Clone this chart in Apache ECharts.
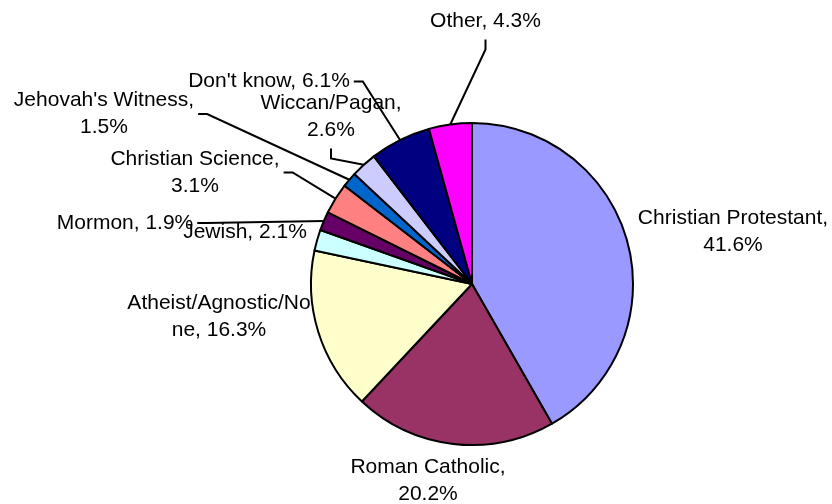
<!DOCTYPE html>
<html>
<head>
<meta charset="utf-8">
<script src="https://cdn.jsdelivr.net/npm/echarts@6/dist/echarts.min.js"></script>
<style>
  html, body { margin: 0; padding: 0; background: #ffffff; }
  #chart { width: 832px; height: 504px; }
</style>
</head>
<body>
<div id="chart"></div>
<script>
// Religious affiliation shares (percent), listed clockwise from twelve o'clock
const categories = [
  'Christian Protestant', 'Roman Catholic', 'Atheist/Agnostic/None', 'Jewish', 'Mormon',
  'Christian Science', "Jehovah's Witness", 'Wiccan/Pagan', "Don't know", 'Other'
];
const shares = [41.6, 20.2, 16.3, 2.1, 1.9, 3.1, 1.5, 2.6, 6.1, 4.3];
const sliceColors = [
  '#9999FF', '#993366', '#FFFFCC', '#CCFFFF', '#660066',
  '#FF8080', '#0066CC', '#CCCCFF', '#000080', '#FF00FF'
];

// Label placement: centre point, whether the value goes on its own line,
// and which side of the label the leader line leaves from.
const labelPlacement = {
  'Christian Protestant':  { pos: [733, 232], wrap: true },
  'Roman Catholic':        { pos: [428, 481], wrap: true },
  'Atheist/Agnostic/None': { pos: [219, 316.5], wrap: false, boxWidth: 190 },
  'Jewish':                { pos: [245, 232], wrap: false },
  'Mormon':                { pos: [125, 223], wrap: false, leader: 'right' },
  'Christian Science':     { pos: [195, 172.5], wrap: true, leader: 'right' },
  "Jehovah's Witness":     { pos: [104, 114], wrap: true, leader: 'right' },
  'Wiccan/Pagan':          { pos: [331, 116.5], wrap: true, leader: 'bottom' },
  "Don't know":            { pos: [269, 81.5], wrap: false, leader: 'right' },
  'Other':                 { pos: [485.5, 21], wrap: false, leader: 'bottom' }
};

const FONT_FAMILY = '"Liberation Sans", Arial, Helvetica, sans-serif';
const FONT_SIZE = 21;

const measureCtx = document.createElement('canvas').getContext('2d');
measureCtx.font = FONT_SIZE + 'px ' + FONT_FAMILY;
function textWidth(str) {
  return Math.max.apply(null, String(str).split('\n').map(function (s) {
    return measureCtx.measureText(s).width;
  }));
}

const chart = echarts.init(document.getElementById('chart'), null, { renderer: 'canvas' });

const pieData = categories.map(function (name, i) {
  const place = labelPlacement[name];
  const item = {
    name: name,
    value: shares[i],
    itemStyle: { color: sliceColors[i] },
    labelLine: { show: !!place.leader }
  };
  if (place.boxWidth) {
    item.label = { width: place.boxWidth, overflow: 'breakAll' };
  }
  return item;
});

chart.setOption({
  animation: false,
  backgroundColor: '#ffffff',
  series: [{
    type: 'pie',
    center: [472, 284],
    radius: 161,
    startAngle: 90,
    clockwise: true,
    avoidLabelOverlap: false,
    emphasis: { disabled: true },
    itemStyle: { borderColor: '#000000', borderWidth: 2 },
    label: {
      show: true,
      position: 'outside',
      color: '#000000',
      fontFamily: FONT_FAMILY,
      fontSize: FONT_SIZE,
      lineHeight: 27,
      width: 320,
      overflow: 'none',
      formatter: function (p) {
        const sep = labelPlacement[p.name].wrap ? '\n' : ' ';
        return p.name + ',' + sep + p.value.toFixed(1) + '%';
      }
    },
    labelLine: {
      show: false,
      lineStyle: { color: '#000000', width: 2 }
    },
    labelLayout: function (params) {
      const place = labelPlacement[categories[params.dataIndex]];
      const x = place.pos[0];
      const y = place.pos[1];
      const out = { x: x, y: y, align: 'center', verticalAlign: 'middle' };
      const pts = params.labelLinePoints;
      if (pts && place.leader) {
        const anchor = pts[0];
        const h = params.labelRect.height;
        const w = textWidth(params.text);
        let elbow, end;
        if (place.leader === 'bottom') {
          end = [x, y + h / 2 + 5];
          elbow = [x, y + h / 2 + 15];
        } else {
          end = [x + w / 2 + 4, y];
          elbow = [x + w / 2 + 13, y];
        }
        out.labelLinePoints = [anchor, elbow, end];
      }
      return out;
    },
    data: pieData
  }]
});
</script>
</body>
</html>
